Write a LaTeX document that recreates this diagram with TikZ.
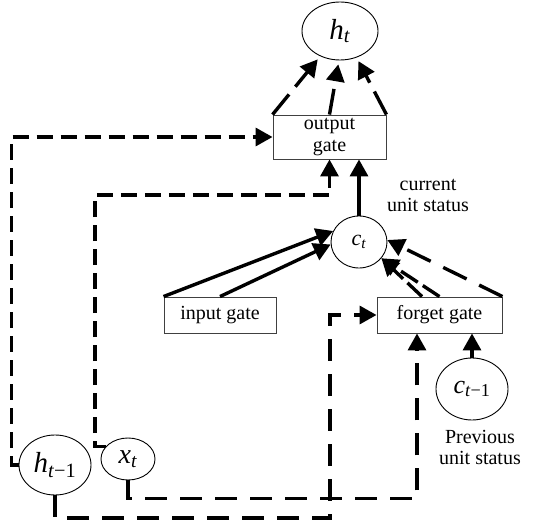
\documentclass[tikz,border=0pt]{standalone}
\usepackage{fontspec}
\setmainfont{Liberation Serif}
\usetikzlibrary{shapes.geometric, arrows.meta}
\newcommand{\var}[2]{\textit{#1}\textsubscript{#2}}
\tikzset{
gate/.style={
       rectangle,
       draw=black!75,
       line width=0.9pt,
       inner sep=0pt,
       align=center,
       font=\fontsize{20}{22}\selectfont,
       },
unit/.style={
       ellipse,
       draw=black,
       line width=0.9pt,
       inner sep=0pt,
       },
tip/.style={-{Triangle[length=17pt,width=18pt]}},
flow/.style={tip, line width=3.4pt},
shortdash/.style={flow, dash pattern=on 16pt off 8pt},
longdash/.style={flow, dash pattern=on 22pt off 13pt},
note/.style={align=center, font=\fontsize{20}{21}\selectfont}
}

\begin{document}
\begin{tikzpicture}[x=1pt, y=-1pt]
      \useasboundingbox (0,0) rectangle (550,532);

      % nodes
      \node [unit, minimum width=76, minimum height=58, font=\fontsize{29}{29}\selectfont] (ht) at (340,31) {\var{h}{\textit{t}}};
      \node [gate, minimum width=113, minimum height=44] (og) at (329.5,137) {output\\gate};
      \node [unit, minimum width=56, minimum height=52, font=\fontsize{22}{22}\selectfont] (ct) at (359,242) {\var{c}{\textit{t}}};
      \node [gate, minimum width=112, minimum height=36] (ig) at (220,315) {input gate};
      \node [gate, minimum width=125, minimum height=36] (fg) at (439.5,315) {forget gate};
      \node [unit, minimum width=72, minimum height=62, font=\fontsize{26}{26}\selectfont] (ctm) at (472,389) {\var{c}{\textit{t}−1}};
      \node [unit, minimum width=72, minimum height=60, font=\fontsize{29}{29}\selectfont] (htm) at (55,465) {\var{h}{\textit{t}−1}};
      \node [unit, minimum width=54, minimum height=42, font=\fontsize{28}{28}\selectfont] (xt) at (128,459) {\var{x}{\textit{t}}};
      \node [note] (cur) at (428,195) {current\\unit status};
      \node [note] (prev) at (480,447) {Previous\\unit status};

      % output gate to h_t
      \foreach \s/\e in {og.north west/ht.232, og.north/ht.268, og.north east/ht.302} {
          \draw [flow, dash pattern=on 26pt off 10pt, shorten >=4pt] (\s) -- (\e);
      }

      % previous output and input to output gate
      \coordinate (xturn) at (95,195);
      \draw [shortdash] (htm.west) -- ++(-7,0) |- (og.west);
      \draw [shortdash] (xt.150) -| (xturn) -| (og.south);

      % cell state
      \draw [flow] (ct.north) -- (ct.north |- og.south);
      \draw [flow] (ig.north west) -- (ct.157);
      \draw [flow] (ig.north) -- (ct.185);
      \draw [flow, dash pattern=on 20pt off 6pt] ([xshift=-17.5]fg.north) -- (ct.-36);
      \draw [flow, dash pattern=on 20pt off 6pt] (fg.north) -- (ct.-36);
      \draw [longdash, dash pattern=on 26pt off 14pt] (fg.north east) -- (ct.4);

      % inputs of the forget gate
      \coordinate (hjoin) at (330,518);
      \draw [longdash] (htm.south) |- (hjoin) |- (fg.west);
      \draw [longdash] (xt.south) -- ++(0,18) -| ([xshift=-22.5]fg.south);
      \draw [flow] (ctm.north) -- (ctm.north |- fg.south);
\end{tikzpicture}
\end{document}
